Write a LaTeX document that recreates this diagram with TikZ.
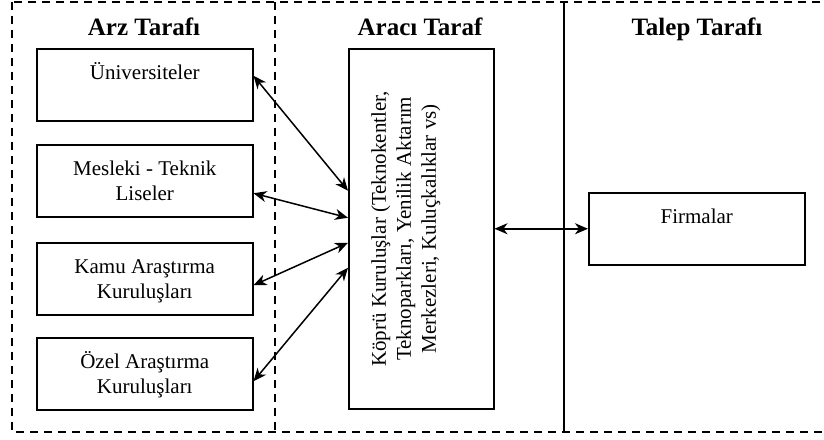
\documentclass[tikz,border=0pt]{standalone}
\usepackage{fontspec}
\setmainfont{Liberation Serif}
\usetikzlibrary{arrows.meta}

\newcommand{\kutuyazi}[1]{\parbox[c][72pt][t]{216pt}{\centering\rule{0pt}{31pt}#1}}

\begin{document}
\begin{tikzpicture}[x=1pt, y=-1pt,
    every node/.style={font=\fontsize{21}{25}\selectfont, inner sep=0pt},
    kutu/.style={draw, line width=1.5pt, anchor=north west},
    baslik/.style={font=\fontsize{25}{30}\selectfont\bfseries, anchor=base},
    ok/.style={{Stealth[length=13pt,width=11pt,inset=4pt]}-{Stealth[length=13pt,width=11pt,inset=4pt]}, line width=1.5pt},
    ayrac/.style={dash pattern=on 8pt off 6pt, line width=1.5pt}]
    \useasboundingbox (0,0) rectangle (824,439);
    \coordinate (UL) at (12,2);
    \coordinate (LR) at (840,432);
    % cerceve ve ayraclar
    \draw [ayrac] (UL) rectangle (LR);
    \draw [ayrac] (275,2) -- (275,432);
    \draw [line width=1.5pt] (564,2) -- (564,432);
    % basliklar
    \node [baslik] (arz) at (144,35) {Arz Tarafı};
    \node [baslik] (araci) at (420,35) {Aracı Taraf};
    \node [baslik] (talep) at (697,35) {Talep Tarafı};
    % arz tarafi
    \node [kutu] (uni) at (36,48) {\kutuyazi{Üniversiteler}};
    \node [kutu] (lise) at (36,144) {\kutuyazi{Mesleki - Teknik\\Liseler}};
    \node [kutu] (kamu) at (36,242) {\kutuyazi{Kamu Araştırma\\Kuruluşları}};
    \node [kutu] (ozel) at (36,337) {\kutuyazi{Özel Araştırma\\Kuruluşları}};
    % araci taraf
    \node [kutu] (kopru) at (348,48) {\rotatebox{90}{\parbox[c][145pt][t]{360pt}{\centering\rule{0pt}{37pt}Köprü Kuruluşlar (Teknokentler,\\Teknoparkları, Yenilik Aktarım\\Merkezleri, Kuluçkalıklar vs)}}};
    % talep tarafi
    \node [kutu] (firma) at (588,192) {\kutuyazi{Firmalar}};
    % oklar
    \draw [ok] ([yshift=9pt]uni.east) -- ([yshift=38pt]kopru.west);
    \draw [ok] ([yshift=-12.5pt]lise.east) -- ([yshift=11pt]kopru.west);
    \draw [ok] ([yshift=-6.5pt]kamu.east) -- ([yshift=-14pt]kopru.west);
    \draw [ok] ([yshift=-7.5pt]ozel.east) -- ([yshift=-39pt]kopru.west);
    \draw [ok] (kopru.east) -- (firma.west);
\end{tikzpicture}
\end{document}
